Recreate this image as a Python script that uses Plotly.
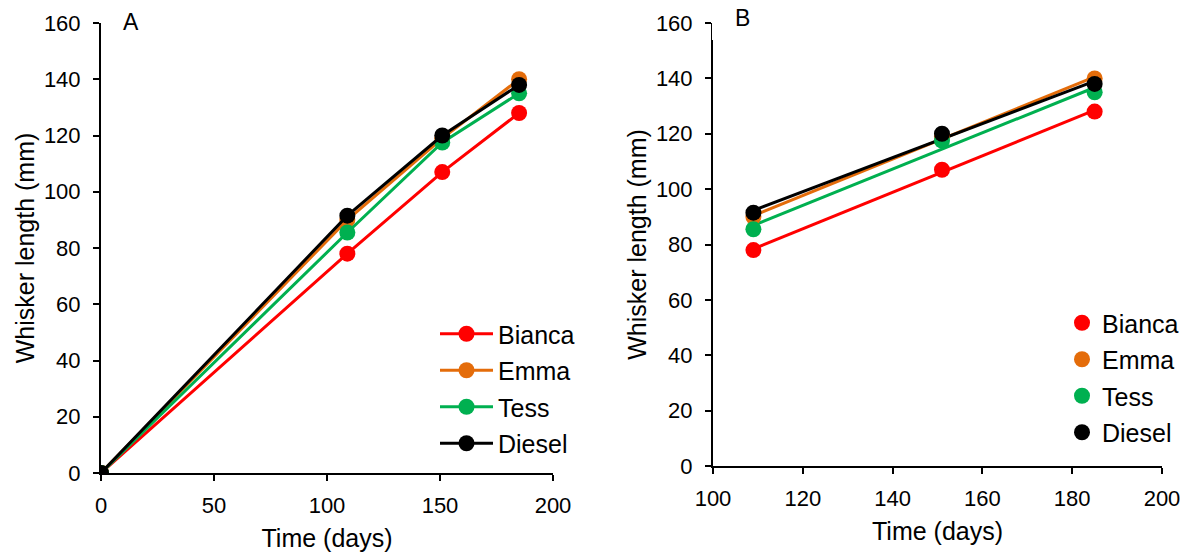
import numpy as np
import plotly.graph_objects as go

days_a = [0, 109, 151, 185]
days_b = [109, 151, 185]
names = ["Bianca", "Emma", "Tess", "Diesel"]
colors = ["#FF0000", "#E46C0A", "#00B050", "#000000"]
bianca = [0, 78, 107, 128]
emma = [0, 90, 119, 140]
tess = [0, 85.5, 117.5, 135]
diesel = [0, 91.5, 120, 138]
series = [bianca, emma, tess, diesel]

W, H = 1192, 556
fig = go.Figure()
font = "Liberation Sans, Arial, sans-serif"

for n, c, s in zip(names, colors, series):
    fig.add_trace(go.Scatter(x=days_a, y=s, mode="lines+markers", name=n,
                             line=dict(color=c, width=3), marker=dict(color=c, size=16),
                             xaxis="x", yaxis="y", legend="legend", legendgroup="a" + n))
for n, c, s in zip(names, colors, series):
    yb = s[1:]
    k, b = np.polyfit(days_b, yb, 1)
    fx = [days_b[0], days_b[-1]]
    fig.add_trace(go.Scatter(x=fx, y=[k * v + b for v in fx], mode="lines",
                             line=dict(color=c, width=3), showlegend=False,
                             xaxis="x2", yaxis="y2", hoverinfo="skip"))
for n, c, s in zip(names, colors, series):
    fig.add_trace(go.Scatter(x=days_b, y=s[1:], mode="markers", name=n,
                             marker=dict(color=c, size=16),
                             xaxis="x2", yaxis="y2", legend="legend2", legendgroup="b" + n))

ax = dict(showgrid=False, zeroline=False, showline=True, linecolor="black", linewidth=2,
          ticks="outside", ticklen=6, tickwidth=2, tickcolor="black", automargin=False,
          tickfont=dict(size=22, color="black", family=font))
xa = dict(ax, ticklabelstandoff=6)
ya = dict(ax, ticklabelstandoff=8)
tt = dict(size=25, color="black", family=font)

fig.update_layout(
    width=W, height=H, margin=dict(l=0, r=0, t=0, b=0),
    paper_bgcolor="white", plot_bgcolor="white",
    font=dict(family=font, color="black"),
    xaxis=dict(xa, domain=[101 / W, 553 / W], range=[0, 200], dtick=50,
               title=dict(text="Time (days)", font=tt, standoff=12), anchor="y"),
    yaxis=dict(ya, domain=[1 - 473 / H, 1 - 23 / H], range=[0, 160], dtick=20,
               title=dict(text="Whisker length (mm)", font=tt, standoff=2), anchor="x"),
    xaxis2=dict(xa, domain=[713 / W, 1162 / W], range=[100, 200], dtick=20,
                title=dict(text="Time (days)", font=tt, standoff=12), anchor="y2"),
    yaxis2=dict(ya, domain=[1 - 466 / H, 1 - 23 / H], range=[0, 160], dtick=20,
                title=dict(text="Whisker length (mm)", font=tt, standoff=2), anchor="x2"),
    legend=dict(x=435 / W, y=1 - 311 / H, xanchor="left", yanchor="top",
                font=dict(size=25, color="black", family=font), bgcolor="rgba(0,0,0,0)",
                tracegroupgap=1, itemwidth=53),
    legend2=dict(x=1062 / W, y=1 - 300 / H, xanchor="left", yanchor="top",
                 font=dict(size=25, color="black", family=font), bgcolor="rgba(0,0,0,0)",
                 tracegroupgap=1, itemwidth=30),
    shapes=[dict(type="rect", xref="paper", yref="paper", x0=712 / W, x1=716 / W,
                 y0=1 - 40 / H, y1=1 - 20 / H, fillcolor="white", line=dict(width=0),
                 layer="above")],
    annotations=[
        dict(text="A", x=131 / W, y=1 - 22 / H, xref="paper", yref="paper",
             xanchor="center", yanchor="middle",
             showarrow=False, font=dict(size=23, color="black", family=font)),
        dict(text="B", x=742 / W, y=1 - 18 / H, xref="paper", yref="paper",
             xanchor="center", yanchor="middle",
             showarrow=False, font=dict(size=23, color="black", family=font)),
    ],
)
fig.write_html("out.html")
